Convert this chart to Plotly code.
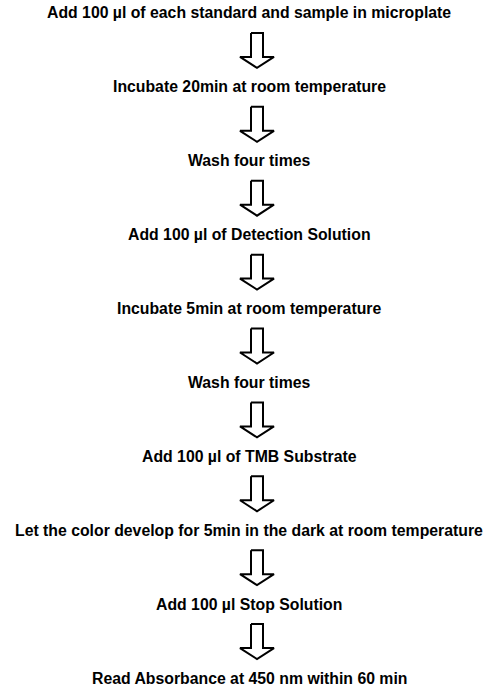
import plotly.graph_objects as go

steps = [
    "Add 100 µl of each standard and sample in microplate",
    "Incubate 20min at room temperature",
    "Wash four times",
    "Add 100 µl of Detection Solution",
    "Incubate 5min at room temperature",
    "Wash four times",
    "Add 100 µl of TMB Substrate",
    "Let the color develop for 5min in the dark at room temperature",
    "Add 100 µl Stop Solution",
    "Read Absorbance at 450 nm within 60 min",
]

W, H = 488, 686
CX = 257
TX = 249
fig = go.Figure()

for i, s in enumerate(steps):
    fig.add_annotation(x=TX, y=i, text="<b>%s</b>" % s, showarrow=False,
                       xref="x", yref="y",
                       font=dict(family="Liberation Sans, Arial", size=15.8, color="black"))

for i in range(len(steps) - 1):
    top = i + 20 / 74
    base = i + 44 / 74
    tip = i + 55 / 74
    xs = [CX - 6, CX + 6, CX + 6, CX + 17, CX, CX - 17, CX - 6, CX - 6]
    ys = [top, top, base, base, tip, base, base, top]
    fig.add_trace(go.Scatter(x=xs, y=ys, mode="lines", fill="toself",
                             fillcolor="white", line=dict(color="black", width=2),
                             showlegend=False, hoverinfo="skip"))

fig.update_layout(
    width=W, height=H, margin=dict(l=0, r=0, t=0, b=0),
    plot_bgcolor="white", paper_bgcolor="white",
    xaxis=dict(range=[0, W], visible=False, fixedrange=True),
    yaxis=dict(range=[(H - 12) / 74, -13 / 74], visible=False, fixedrange=True),
)
fig.write_html(
    "out.html",
    config={"displayModeBar": False},
    post_script="document.body.style.margin='0';document.documentElement.style.overflow='hidden';",
)
